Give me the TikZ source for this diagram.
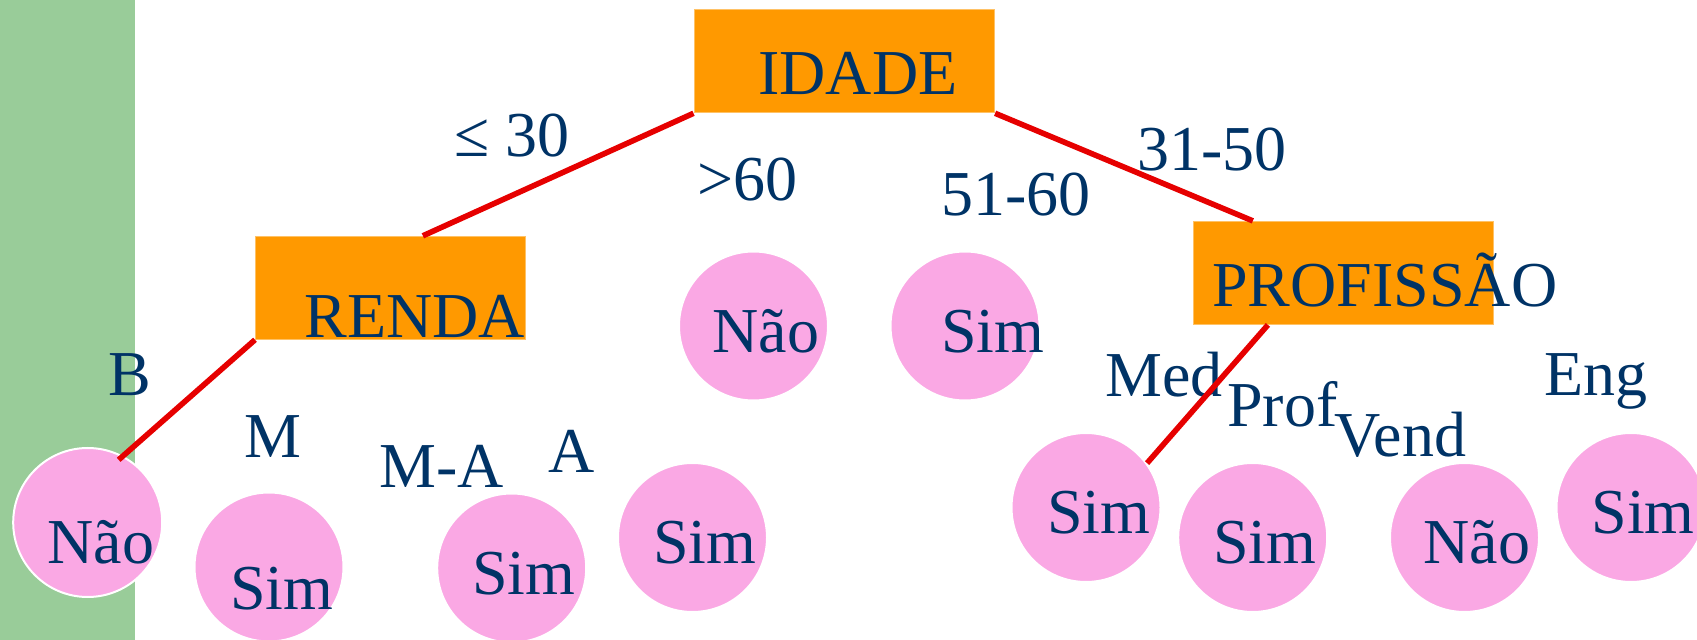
\documentclass[tikz,border=0pt]{standalone}
\usepackage{fontspec}
\setmainfont{Liberation Serif}
\usetikzlibrary{calc}
\definecolor{leafgreen}{RGB}{153,204,153}
\definecolor{nodeorange}{RGB}{255,153,0}
\definecolor{leafpink}{RGB}{250,168,228}
\definecolor{textnavy}{RGB}{0,51,102}
\definecolor{branchred}{RGB}{230,0,0}

\begin{document}
\begin{tikzpicture}[x=0.5pt, y=-0.5pt,
  attr/.style={fill=nodeorange, draw=nodeorange!60!white, line width=0.4pt, minimum width=#1, minimum height=51.6pt, inner sep=0pt},
  leaf/.style={circle, fill=leafpink, draw=white, line width=1pt, minimum size=74.5pt, inner sep=0pt},
  branch/.style={branchred, line width=2.8pt},
  txt/.style={text=textnavy, font=\fontsize{32}{36}\selectfont, anchor=base west, inner sep=0pt}
]
\useasboundingbox (0,0) rectangle (1697,640);
\fill[leafgreen] (0,0) rectangle (135,640);

% attribute boxes
\node[attr=150.4pt] (idade) at (844.3,61.3) {};
\node[attr=135pt] (renda) at (390.4,287.8) {};
\node[attr=150.2pt] (profissao) at (1343.2,272.9) {};

% leaves
\node[leaf] (naoB) at (87.7,522.5) {};
\node[leaf] (simM) at (269,567) {};
\node[leaf] (simMA) at (511.7,568) {};
\node[leaf] (simA) at (692.5,537.5) {};
\node[leaf] (nao60) at (753.5,326) {};
\node[leaf] (sim5160) at (965,326) {};
\node[leaf] (simMed) at (1086,507.5) {};
\node[leaf] (simProf) at (1252.7,537.5) {};
\node[leaf] (naoVend) at (1464.5,537.5) {};
\node[leaf] (simEng) at (1631,507.5) {};

% texts
\node[txt] (idade-t) at (758,94.3) {IDADE};
\node[txt] (renda-t) at (304,338) {RENDA};
\node[txt] (profissao-t) at (1212,307) {PROFISSÃO};

\node[txt] (naoB-t) at (47,564) {Não};
\node[txt] (simM-t) at (230,610) {Sim};
\node[txt] (simMA-t) at (472,595) {Sim};
\node[txt] (simA-t) at (653,564) {Sim};
\node[txt] (nao60-t) at (712,352.7) {Não};
\node[txt] (sim5160-t) at (941,352.7) {Sim};
\node[txt] (simMed-t) at (1047,534) {Sim};
\node[txt] (simProf-t) at (1213,564) {Sim};
\node[txt] (naoVend-t) at (1423,564) {Não};
\node[txt] (simEng-t) at (1591,534) {Sim};

\node[txt] (le30) at (454,157) {≤ 30};
\node[txt] (gt60) at (697,200.8) {>60};
\node[txt] (r5160) at (941,215.5) {51-60};
\node[txt] (r3150) at (1137,171) {31-50};
\node[txt] (lb) at (108,396) {B};
\node[txt] (lm) at (244,458) {M};
\node[txt] (lma) at (379,487.8) {M-A};
\node[txt] (la) at (548,472.7) {A};
\node[txt] (lmed) at (1105,396.7) {Med};
\node[txt] (lprof) at (1227,426.5) {Prof};
\node[txt] (lvend) at (1334,457) {Vend};
\node[txt] (leng) at (1544,396) {Eng};

% branches
\draw[branch] (idade.south west) -- ($(renda.north west)!0.62!(renda.north east)$);
\draw[branch] (idade.south east) -- ($(profissao.north west)!0.2!(profissao.north east)$);
\draw[branch, shorten >=-3pt] (renda.south west) -- (naoB.62);
\draw[branch] ($(profissao.south west)!0.25!(profissao.south east)$) -- (simMed.36);
\end{tikzpicture}
\end{document}
